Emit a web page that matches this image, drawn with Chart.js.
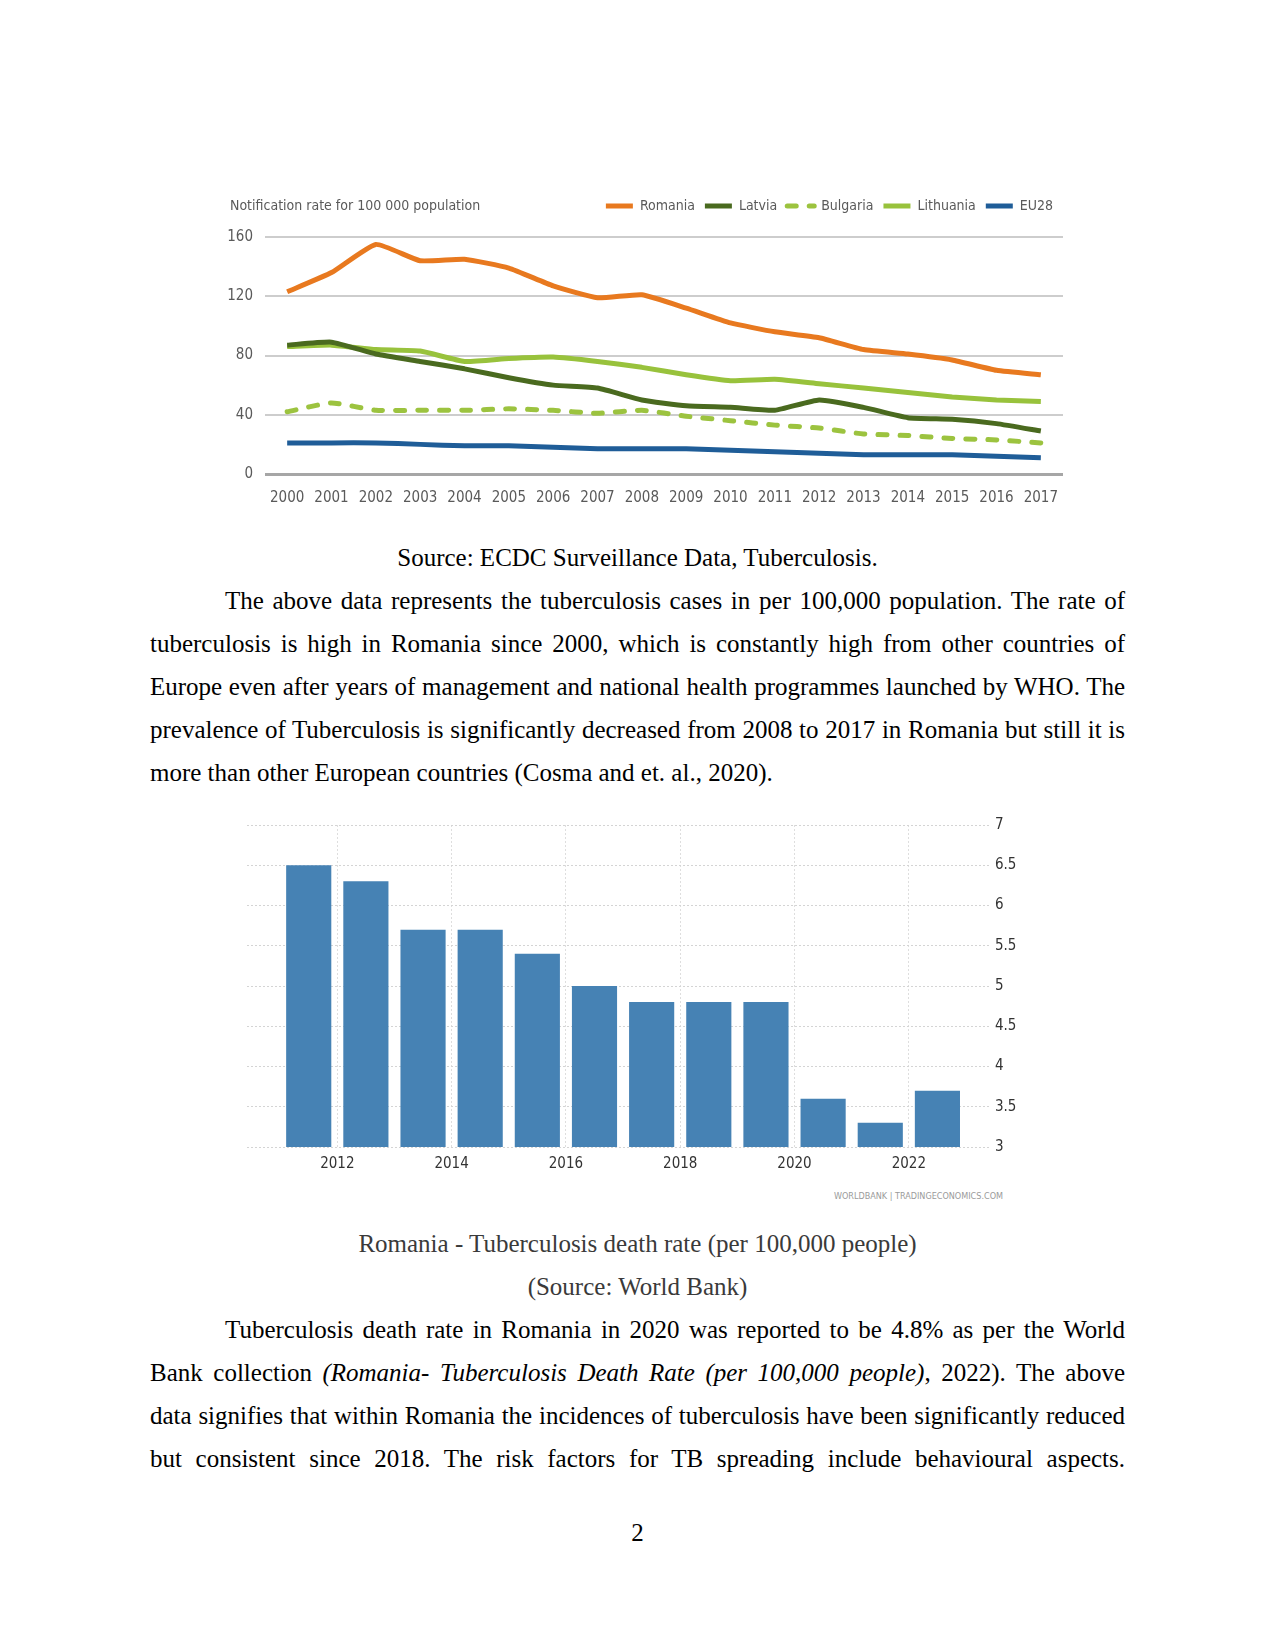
<!DOCTYPE html>
<html>
<head>
<meta charset="utf-8">
<title>Tuberculosis in Romania</title>
<script src="https://cdn.jsdelivr.net/npm/chart.js@4.4.0/dist/chart.umd.min.js"></script>
<style>
    html, body { margin: 0; padding: 0; background: #fff; }
    .page { position: relative; width: 1275px; height: 1650px; overflow: hidden; font-family: "Liberation Serif", "Times New Roman", serif; font-size: 25px; color: #000; }
    .chart-box { position: absolute; }
    .line { position: absolute; left: 150px; width: 975px; height: 43px; line-height: 43px; white-space: nowrap; }
    .just { text-align: justify; text-align-last: justify; white-space: normal; }
    .indent { left: 225px; width: 900px; }
    .center { text-align: center; }
    .grey { color: #3a3a3a; }
    .credit { position: absolute; left: 800px; top: 1191px; width: 203px; text-align: right; font-family: "Liberation Sans Narrow", "DejaVu Sans Condensed", sans-serif; font-size: 9px; color: #9a9a9a; }
</style>
</head>
<body>
<div class="page">
    <div class="chart-box" style="left:215px; top:185px; width:860px; height:330px;">
        <canvas id="notification-chart" width="860" height="330"></canvas>
    </div>

    <div class="line center" style="top:536px;">Source: ECDC Surveillance Data, Tuberculosis.</div>
    <div class="line just indent" style="top:579px;">The above data represents the tuberculosis cases in per 100,000 population. The rate of</div>
    <div class="line just" style="top:622px;">tuberculosis is high in Romania since 2000, which is constantly high from other countries of</div>
    <div class="line just" style="top:665px;">Europe even after years of management and national health programmes launched by WHO. The</div>
    <div class="line just" style="top:708px;">prevalence of Tuberculosis is significantly decreased from 2008 to 2017 in Romania but still it is</div>
    <div class="line" style="top:751px;">more than other European countries (Cosma and et. al., 2020).</div>

    <div class="chart-box" style="left:230px; top:810px; width:790px; height:370px;">
        <canvas id="death-rate-chart" width="790" height="370"></canvas>
    </div>
    <div class="credit">WORLDBANK | TRADINGECONOMICS.COM</div>

    <div class="line center grey" style="top:1222px;">Romania - Tuberculosis death rate (per 100,000 people)</div>
    <div class="line center grey" style="top:1265px;">(Source: World Bank)</div>
    <div class="line just indent" style="top:1308px;">Tuberculosis death rate in Romania in 2020 was reported to be 4.8% as per the World</div>
    <div class="line just" style="top:1351px;">Bank collection <i>(Romania- Tuberculosis Death Rate (per 100,000 people)</i>, 2022). The above</div>
    <div class="line just" style="top:1394px;">data signifies that within Romania the incidences of tuberculosis have been significantly reduced</div>
    <div class="line just" style="top:1437px;">but consistent since 2018. The risk factors for TB spreading include behavioural aspects.</div>

    <div class="line center" style="top:1511px;">2</div>
</div>

<script>
// --- chart 1: TB notification rate per 100 000 (ECDC) ---
const notifYears = ['2000', '2001', '2002', '2003', '2004', '2005', '2006', '2007', '2008',
    '2009', '2010', '2011', '2012', '2013', '2014', '2015', '2016', '2017'];
const romania   = [123, 136, 155, 144, 145, 139, 127, 119, 121, 112, 102, 96, 92, 84, 81, 77, 70, 67];
const latvia    = [87, 89, 81, 76, 71, 65, 60, 58, 50, 46, 45, 43, 50, 45, 38, 37, 34, 29];
const bulgaria  = [42, 48, 43, 43, 43, 44, 43, 41, 43, 39, 36, 33, 31, 27, 26, 24, 23, 21];
const lithuania = [86, 87, 84, 83, 76, 78, 79, 76, 72, 67, 63, 64, 61, 58, 55, 52, 50, 49];
const eu28      = [21, 21, 21, 20, 19, 19, 18, 17, 17, 17, 16, 15, 14, 13, 13, 13, 12, 11];
const notifTicks = [0, 40, 80, 120, 160];

// --- chart 2: Romania TB death rate per 100 000 (World Bank) ---
const deathYears = [2011, 2012, 2013, 2014, 2015, 2016, 2017, 2018, 2019, 2020, 2021, 2022];
const deathRates = [6.5, 6.3, 5.7, 5.7, 5.4, 5.0, 4.8, 4.8, 4.8, 3.6, 3.3, 3.7];
const deathTickYears = [2012, 2014, 2016, 2018, 2020, 2022];

const narrowFont = '"Liberation Sans Narrow", "DejaVu Sans Condensed", sans-serif';

// draws the small axis caption on the legend row, left side
const yCaptionPlugin = {
    id: 'yCaption',
    beforeInit(chart) {
        // leave a gap between legend row and plot
        const origFit = chart.legend.fit;
        chart.legend.fit = function () {
            origFit.call(this);
            this.height += 14;
        };
    },
    afterDraw(chart, args, opts) {
        const { ctx } = chart;
        ctx.save();
        ctx.font = '14px ' + narrowFont;
        ctx.fillStyle = '#5a5a5a';
        ctx.textBaseline = 'middle';
        ctx.textAlign = 'left';
        ctx.fillText(opts.text, chart.chartArea.left - 35, opts.y);
        ctx.restore();
    }
};

function lineSet(label, data, color, dashed) {
    return {
        label: label,
        data: data,
        borderColor: color,
        backgroundColor: color,
        borderWidth: 5,
        borderDash: dashed ? [9, 13] : [],
        borderCapStyle: dashed ? 'round' : 'butt',
        borderJoinStyle: 'round',
        pointRadius: 0,
        tension: 0.15,
        fill: false
    };
}

// legend items: take dash + width from the dataset, not from point 0
function legendLabels(chart) {
    const items = Chart.defaults.plugins.legend.labels.generateLabels(chart);
    items.forEach(item => {
        const ds = chart.data.datasets[item.datasetIndex];
        item.lineDash = ds.borderDash;
        item.lineWidth = 5;
        item.lineCap = ds.borderCapStyle;
        item.strokeStyle = ds.borderColor;
    });
    return items;
}

new Chart(document.getElementById('notification-chart'), {
    type: 'line',
    data: {
        labels: notifYears,
        datasets: [
            lineSet('Romania', romania, '#e8791f'),
            lineSet('Latvia', latvia, '#4a6a1f'),
            lineSet('Bulgaria', bulgaria, '#9cc33f', true),
            lineSet('Lithuania', lithuania, '#98c23c'),
            lineSet('EU28', eu28, '#1f5d98')
        ]
    },
    plugins: [yCaptionPlugin],
    options: {
        responsive: false,
        animation: false,
        layout: { padding: { top: 4, right: 12, left: 0, bottom: 0 } },
        plugins: {
            legend: {
                position: 'top',
                align: 'end',
                labels: {
                    usePointStyle: true,
                    pointStyle: 'line',
                    pointStyleWidth: 27,
                    boxHeight: 14,
                    padding: 10,
                    color: '#5a5a5a',
                    font: { family: narrowFont, size: 14 },
                    generateLabels: legendLabels
                }
            },
            tooltip: { enabled: false },
            yCaption: { text: 'Notification rate for 100 000 population', y: 21 }
        },
        scales: {
            x: {
                offset: true,
                grid: { display: false },
                border: { display: false },
                afterFit: (scale) => { scale.height = 41; },
                ticks: { color: '#5a5a5a', font: { family: narrowFont, size: 15 }, maxRotation: 0, autoSkip: false, padding: 7 }
            },
            y: {
                min: 0,
                max: 160,
                afterBuildTicks: (scale) => { scale.ticks = notifTicks.map(v => ({ value: v })); },
                afterFit: (scale) => { scale.width = 50; },
                border: { display: false },
                grid: {
                    drawTicks: false,
                    color: (c) => c.tick && c.tick.value === 0 ? '#a6a6a6' : '#cdcdcd',
                    lineWidth: (c) => c.tick && c.tick.value === 0 ? 3 : 2
                },
                ticks: { color: '#5a5a5a', font: { family: narrowFont, size: 15 }, padding: 12 }
            }
        }
    }
});

// bars sit across each calendar year, so their centre is mid-year
const deathPoints = deathYears.map((yr, i) => ({ x: yr + 0.5, y: deathRates[i] }));

new Chart(document.getElementById('death-rate-chart'), {
    type: 'bar',
    data: {
        datasets: [{
            label: 'Tuberculosis death rate',
            data: deathPoints,
            backgroundColor: '#4682b4',
            borderWidth: 0,
            categoryPercentage: 1,
            barPercentage: 0.79
        }]
    },
    options: {
        responsive: false,
        animation: false,
        layout: { padding: { left: 17, top: 15, right: 0, bottom: 0 } },
        plugins: { legend: { display: false }, tooltip: { enabled: false } },
        scales: {
            x: {
                type: 'linear',
                offset: false,
                min: 2010.42,
                max: 2023.42,
                afterBuildTicks: (scale) => { scale.ticks = deathTickYears.map(v => ({ value: v })); },
                afterFit: (scale) => { scale.height = 33; },
                border: { display: false, dash: [2, 2] },
                grid: { offset: false, color: '#dedede', lineWidth: 1, drawTicks: false },
                ticks: {
                    color: '#333',
                    font: { family: narrowFont, size: 15 },
                    padding: 8,
                    maxRotation: 0,
                    callback: (v) => String(v)
                }
            },
            y: {
                position: 'right',
                min: 3,
                max: 7,
                ticks: { stepSize: 0.5, color: '#333', font: { family: narrowFont, size: 15 }, padding: 5, callback: (v) => String(v) },
                afterFit: (scale) => { scale.width = 30; },
                border: { display: false, dash: [2, 2] },
                grid: { color: '#d4d4d4', lineWidth: 1, drawTicks: false }
            }
        }
    }
});
</script>
</body>
</html>
